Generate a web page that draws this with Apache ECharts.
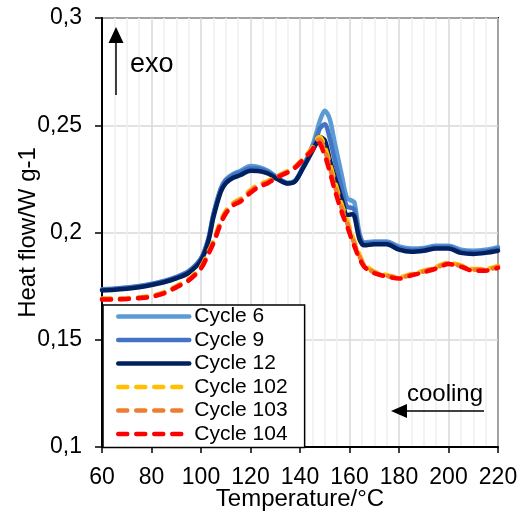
<!DOCTYPE html>
<html>
<head>
<meta charset="utf-8">
<script src="https://cdn.jsdelivr.net/npm/echarts@6/dist/echarts.min.js"></script>
<style>
html,body{margin:0;padding:0;background:#fff;}
#chart{width:524px;height:517px;}
</style>
</head>
<body>
<div id="chart"></div>
<script>
const temperature = [60,65,70,75,80,85,90,95,100,103,105,108,110,113,116,120,123,127,131,135,138,141,145,147,148,150,152,154,157,159,161,162,164,166,170,175,180,185,190,195,200,205,210,215,220];

const cycle6 = [0.1736,0.1739,0.1744,0.1751,0.1761,0.1774,0.1793,0.1820,0.1880,0.1972,0.2085,0.2206,0.2247,0.2273,0.2288,0.2310,0.2306,0.2288,0.2256,0.2232,0.2242,0.2302,0.2405,0.2480,0.2520,0.2568,0.2530,0.2420,0.2260,0.2160,0.2148,0.2140,0.2000,0.1955,0.1958,0.1958,0.1935,0.1925,0.1928,0.1938,0.1938,0.1920,0.1915,0.1920,0.1932];
const cycle9 = [0.1734,0.1737,0.1742,0.1749,0.1759,0.1772,0.1791,0.1818,0.1878,0.1970,0.2082,0.2202,0.2242,0.2267,0.2281,0.2300,0.2298,0.2283,0.2253,0.2230,0.2240,0.2298,0.2390,0.2450,0.2485,0.2505,0.2440,0.2340,0.2200,0.2120,0.2115,0.2105,0.1985,0.1948,0.1952,0.1952,0.1928,0.1918,0.1922,0.1932,0.1932,0.1913,0.1908,0.1913,0.1925];
const cycle12 = [0.1730,0.1733,0.1738,0.1745,0.1755,0.1768,0.1786,0.1812,0.1870,0.1960,0.2070,0.2190,0.2230,0.2255,0.2268,0.2288,0.2287,0.2275,0.2248,0.2228,0.2238,0.2295,0.2380,0.2425,0.2445,0.2430,0.2340,0.2260,0.2150,0.2080,0.2085,0.2075,0.1970,0.1940,0.1945,0.1945,0.1920,0.1910,0.1915,0.1925,0.1925,0.1905,0.1900,0.1905,0.1915];
const cycle102 = [0.1692,0.1692,0.1694,0.1698,0.1705,0.1721,0.1750,0.1782,0.1840,0.1910,0.1960,0.2055,0.2100,0.2138,0.2158,0.2198,0.2222,0.2240,0.2265,0.2286,0.2307,0.2342,0.2395,0.2438,0.2445,0.2400,0.2325,0.2240,0.2125,0.2060,0.1990,0.1958,0.1898,0.1852,0.1818,0.1802,0.1792,0.1807,0.1822,0.1840,0.1860,0.1847,0.1830,0.1830,0.1845];
const cycle103 = [0.1690,0.1690,0.1692,0.1696,0.1703,0.1719,0.1747,0.1779,0.1836,0.1905,0.1955,0.2049,0.2094,0.2132,0.2152,0.2192,0.2216,0.2235,0.2262,0.2283,0.2305,0.2339,0.2390,0.2430,0.2432,0.2382,0.2305,0.2220,0.2108,0.2045,0.1978,0.1947,0.1889,0.1846,0.1814,0.1798,0.1788,0.1803,0.1818,0.1836,0.1856,0.1843,0.1826,0.1826,0.1840];
const cycle104 = [0.1688,0.1688,0.1690,0.1694,0.1700,0.1716,0.1744,0.1776,0.1832,0.1900,0.1949,0.2042,0.2088,0.2126,0.2145,0.2185,0.2210,0.2230,0.2258,0.2280,0.2302,0.2336,0.2385,0.2420,0.2415,0.2360,0.2285,0.2200,0.2090,0.2030,0.1965,0.1935,0.1880,0.1840,0.1810,0.1795,0.1785,0.1800,0.1815,0.1832,0.1853,0.1840,0.1822,0.1822,0.1835];

const seriesNames = ['Cycle 6','Cycle 9','Cycle 12','Cycle 102','Cycle 103','Cycle 104'];
const seriesValues = [cycle6, cycle9, cycle12, cycle102, cycle103, cycle104];
const seriesColors = ['#5B9BD5','#4472C4','#002060','#FFC000','#ED7D31','#FF0000'];
const seriesDashed = [false,false,false,true,true,true];

const xTicks = [60,80,100,120,140,160,180,200,220];
const yTicks = [0.1,0.15,0.2,0.25,0.3];

const FONT = 'Liberation Sans, Arial, sans-serif';

const chart = echarts.init(document.getElementById('chart'), null, {renderer:'canvas'});

const series = seriesNames.map((name, i) => ({
  name: name,
  type: 'line',
  data: temperature.map((t, k) => [t, seriesValues[i][k]]),
  smooth: 0.3,
  symbol: 'none',
  showSymbol: false,
  z: 2 + i,
  lineStyle: {
    color: seriesColors[i],
    width: 4.5,
    type: seriesDashed[i] ? [9, 9] : 'solid',
    cap: 'round'
  },
  itemStyle: {color: seriesColors[i]}
}));

chart.setOption({
  animation: false,
  backgroundColor: '#fff',
  textStyle: {fontFamily: FONT},
  grid: {left: 102, right: 26, top: 18, bottom: 70, show: true, borderColor: '#000', borderWidth: 2,
    backgroundColor: 'transparent', containLabel: false, outerBoundsMode: 'none'},
  xAxis: {
    type: 'value',
    min: xTicks[0], max: xTicks[xTicks.length-1], interval: 20,
    name: 'Temperature/°C',
    nameLocation: 'middle',
    nameGap: 40,
    nameMoveOverlap: false,
    nameTextStyle: {fontSize: 24, color: '#000', fontFamily: FONT},
    axisLine: {show: true, lineStyle: {color: '#000', width: 2}},
    axisTick: {show: true, length: 6, lineStyle: {color: '#000', width: 1.5}},
    axisLabel: {fontSize: 23, color: '#000', margin: 19, fontFamily: FONT, hideOverlap: false},
    splitLine: {show: true, lineStyle: {color: '#d9d9d9', width: 1.5}},
    minorTick: {show: false, splitNumber: 4},
    minorSplitLine: {show: true, lineStyle: {color: '#efefef', width: 1.5}}
  },
  yAxis: {
    type: 'value',
    min: yTicks[0], max: yTicks[yTicks.length-1], interval: 0.05,
    name: 'Heat flow/W g-1',
    nameLocation: 'middle',
    nameGap: 62,
    nameMoveOverlap: false,
    nameTextStyle: {fontSize: 24, color: '#000', fontFamily: FONT},
    axisLine: {show: true, lineStyle: {color: '#000', width: 2}},
    axisTick: {show: true, length: 7, lineStyle: {color: '#000', width: 1.5}},
    axisLabel: {fontSize: 23, color: '#000', margin: 20, fontFamily: FONT,
      formatter: v => String(+v.toFixed(2)).replace('.', ',')},
    splitLine: {show: true, lineStyle: {color: '#d9d9d9', width: 1.5}}
  },
  legend: {
    orient: 'vertical',
    left: 103, top: 305,
    padding: [1, 17, 3, 13],
    itemWidth: 71, itemHeight: 14, itemGap: 2.5,
    backgroundColor: '#fff',
    borderColor: '#000', borderWidth: 1.5, borderRadius: 0,
    itemStyle: {opacity: 0, borderWidth: 0},
    lineStyle: {width: 4.5},
    textStyle: {fontSize: 21, color: '#000', fontFamily: FONT},
    data: seriesNames
  },
  graphic: [
    {type: 'line', shape: {x1: 116, y1: 95, x2: 116, y2: 40}, style: {stroke: '#000', lineWidth: 1.5}, z: 100},
    {type: 'polygon', shape: {points: [[116, 27], [108.5, 43], [123.5, 43]]}, style: {fill: '#000'}, z: 100},
    {type: 'text', style: {text: 'exo', x: 130, y: 64.5, fontSize: 27, fontFamily: FONT, fill: '#000', textVerticalAlign: 'middle', verticalAlign: 'middle'}, z: 100},
    {type: 'line', shape: {x1: 484, y1: 411, x2: 404, y2: 411}, style: {stroke: '#000', lineWidth: 1.5}, z: 100},
    {type: 'polygon', shape: {points: [[391, 411], [407, 404], [407, 418]]}, style: {fill: '#000'}, z: 100},
    {type: 'text', style: {text: 'cooling', x: 407, y: 394.5, fontSize: 24, fontFamily: FONT, fill: '#000', textVerticalAlign: 'middle', verticalAlign: 'middle'}, z: 100}
  ],
  series: series
});
</script>
</body>
</html>
